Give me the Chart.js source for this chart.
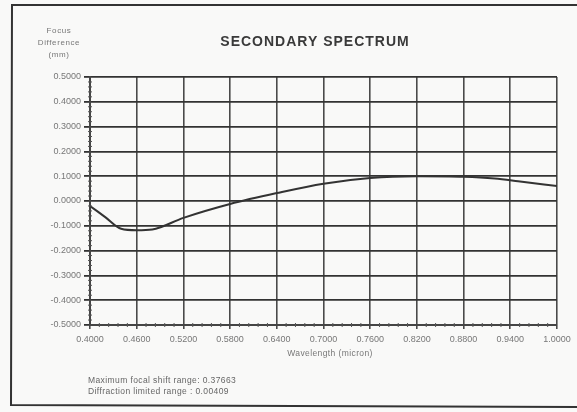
<!DOCTYPE html>
<html>
<head>
<meta charset="utf-8">
<script src="https://cdn.jsdelivr.net/npm/chart.js@4.4.1/dist/chart.umd.min.js"></script>
<style>
  html, body { margin: 0; padding: 0; background: #f9f9f8; }
  #wrap { width: 577px; height: 412px; position: relative; }
</style>
</head>
<body>
<div id="wrap"><canvas id="chart" width="577" height="412"></canvas></div>
<script>
// ---- Data ----
const wavelength = [0.40, 0.42, 0.44, 0.46, 0.48, 0.52, 0.58, 0.64, 0.70, 0.76, 0.82, 0.88, 0.92, 0.95, 1.00];
const focusShift = [-0.020, -0.066, -0.112, -0.118, -0.115, -0.068, -0.012, 0.032, 0.070, 0.093, 0.100, 0.098, 0.091, 0.080, 0.060];

const xTicks = [0.40, 0.46, 0.52, 0.58, 0.64, 0.70, 0.76, 0.82, 0.88, 0.94, 1.00];
const yTicks = [-0.5, -0.4, -0.3, -0.2, -0.1, 0.0, 0.1, 0.2, 0.3, 0.4, 0.5];

const chartTitle = 'SECONDARY SPECTRUM';
const yTitle = ['Focus', 'Difference', '(mm)'];
const xTitle = 'Wavelength (micron)';
const footer = ['Maximum focal shift range: 0.37663', 'Diffraction limited range : 0.00409'];

const FONT = "Arial, 'Liberation Sans', sans-serif";

// ---- Page frame, minor ticks on axes, loose texts ----
const pagePlugin = {
  id: 'page',
  beforeDraw(chart) {
    const c = chart.ctx;
    c.save();
    c.strokeStyle = '#333';
    c.lineWidth = 2;
    c.beginPath();
    c.moveTo(590, 5);
    c.lineTo(12, 5);
    c.lineTo(11, 405);
    c.lineTo(590, 407);
    c.stroke();
    c.restore();
  },
  afterDraw(chart) {
    const c = chart.ctx;
    const { x, y } = chart.scales;
    const area = chart.chartArea;
    c.save();
    // minor ticks: 5 per major step
    c.strokeStyle = '#555';
    c.lineWidth = 1;
    c.beginPath();
    for (let i = 0; i < yTicks.length - 1; i++) {
      for (let k = 1; k < 5; k++) {
        const py = y.getPixelForValue(yTicks[i] + (yTicks[i + 1] - yTicks[i]) * k / 5);
        c.moveTo(area.left - 2, py);
        c.lineTo(area.left + 2, py);
      }
    }
    for (let i = 0; i < xTicks.length - 1; i++) {
      for (let k = 1; k < 5; k++) {
        const px = x.getPixelForValue(xTicks[i] + (xTicks[i + 1] - xTicks[i]) * k / 5);
        c.moveTo(px, area.bottom - 2);
        c.lineTo(px, area.bottom + 2);
      }
    }
    c.stroke();

    c.fillStyle = '#3a3a3a';
    c.font = 'bold 14px ' + FONT;
    c.letterSpacing = '1px';
    c.textAlign = 'center';
    c.textBaseline = 'middle';
    c.fillText(chartTitle, 315, 42);
    c.letterSpacing = '0px';

    c.fillStyle = '#777';
    c.font = '8px ' + FONT;
    c.letterSpacing = '0.6px';
    yTitle.forEach((t, i) => c.fillText(t, 59, 31 + i * 12));

    c.font = '8.5px ' + FONT;
    c.letterSpacing = '0.4px';
    c.fillText(xTitle, 330, 354);

    c.fillStyle = '#666';
    c.textAlign = 'left';
    footer.forEach((t, i) => c.fillText(t, 88, 381 + i * 11));
    c.restore();
  }
};

new Chart(document.getElementById('chart'), {
  type: 'line',
  data: {
    datasets: [{
      data: wavelength.map((w, i) => ({ x: w, y: focusShift[i] })),
      borderColor: '#333',
      borderWidth: 2,
      pointRadius: 0,
      cubicInterpolationMode: 'monotone',
      fill: false
    }]
  },
  options: {
    responsive: false,
    animation: false,
    layout: { padding: { top: 77, right: 20, left: 0, bottom: 0 } },
    plugins: {
      legend: { display: false },
      tooltip: { enabled: false }
    },
    scales: {
      x: {
        type: 'linear',
        min: 0.4,
        max: 1.0,
        afterBuildTicks: s => { s.ticks = xTicks.map(v => ({ value: v })); },
        afterFit: s => { s.height = 87; },
        grid: { color: '#4a4a4a', lineWidth: 1.6, tickLength: 4 },
        border: { color: '#444', width: 2 },
        ticks: {
          color: '#777',
          font: { family: FONT, size: 9 },
          padding: 5,
          maxRotation: 0,
          callback: v => v.toFixed(4)
        }
      },
      y: {
        min: -0.5,
        max: 0.5,
        afterBuildTicks: s => { s.ticks = yTicks.map(v => ({ value: v })); },
        afterFit: s => { s.width = 90; },
        grid: { color: '#333', lineWidth: 1.8, tickLength: 6 },
        border: { color: '#444', width: 2 },
        ticks: {
          color: '#777',
          font: { family: FONT, size: 9 },
          padding: 3,
          callback: v => v.toFixed(4)
        }
      }
    }
  },
  plugins: [pagePlugin]
});
</script>
</body>
</html>
